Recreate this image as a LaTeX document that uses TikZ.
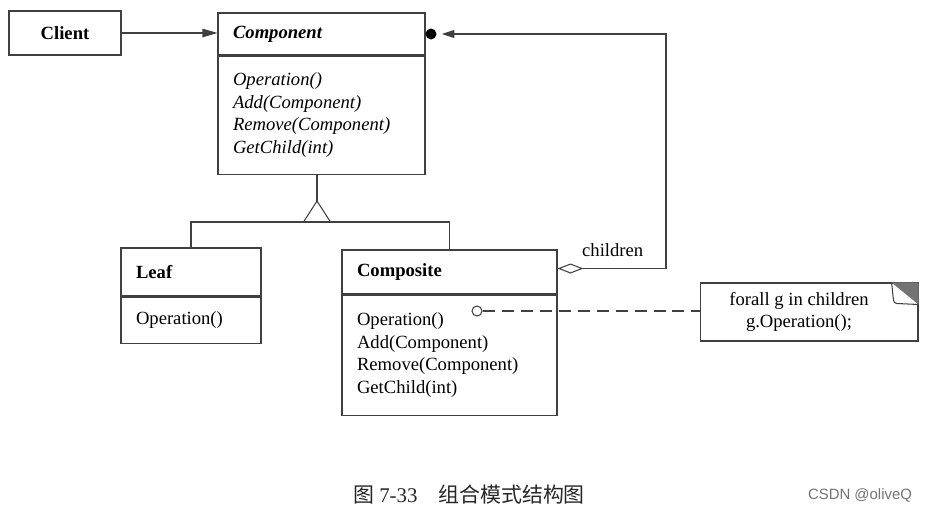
\documentclass[tikz,border=0pt]{standalone}
\usepackage{fontspec}
\setmainfont{Liberation Serif}
\newfontfamily\cjkfont{Noto Sans CJK SC}
\newfontfamily\markfont{Liberation Sans}
\usetikzlibrary{arrows.meta}

\newcommand{\umlfont}{\fontsize{10.6pt}{12.9pt}\selectfont}

\tikzset{
  classhead/.style={draw=black!75, line width=0.6pt, inner xsep=0.3cm, inner ysep=0pt, align=left, font=\umlfont\bfseries},
  classbody/.style={draw=black!75, line width=0.6pt, inner xsep=0.3cm, inner ysep=0pt, align=left, anchor=north, font=\umlfont},
  conn/.style={draw=black!75, line width=0.6pt},
}

\begin{document}
\begin{tikzpicture}[x=0.02cm, y=-0.02cm]
\useasboundingbox (0,0) rectangle (926,511);

\node [draw=black!75,
    line width=0.6pt,
    minimum width=2.24cm,
    minimum height=0.88cm,
    font=\umlfont\bfseries] (client) at (65,33) {Client};

\node [classhead,
    text width=3.54cm,
    minimum height=0.84cm,
    font=\umlfont\bfseries\itshape] (comphead) at (321.5,34) {Component};
\node [classbody,
    text width=3.54cm,
    minimum height=2.36cm,
    font=\umlfont\itshape] (compbody) at (comphead.south)
    {Operation()\\Add(Component)\\Remove(Component)\\GetChild(int)};

\node [classhead,
    text width=2.2cm,
    minimum height=0.96cm] (leafhead) at (191,272) {Leaf};
\node [classbody,
    text width=2.2cm,
    minimum height=0.92cm] (leafbody) at (leafhead.south) {Operation()};

\node [classhead,
    text width=3.7cm,
    minimum height=0.88cm] (comphead2) at (449.5,272) {Composite};
\node [classbody,
    text width=3.7cm,
    minimum height=2.4cm] (compbody2) at (comphead2.south)
    {Operation()\\Add(Component)\\Remove(Component)\\GetChild(int)};

% client uses component
\draw [conn, -{Triangle[length=0.3cm, width=0.17cm]}] (client.east) -- (client.east -| comphead.west);

% generalization
\coordinate (gen) at (317,201);
\coordinate (join) at (317,222);
\draw [conn] (gen) -- (gen |- compbody.south);
\draw [conn] (gen) -- ++(-13.5,21) -- ++(27,0) -- cycle;
\draw [conn] (leafhead.north) |- (join) -| (comphead2.north);

% children aggregation
\node [circle,
    fill=black,
    inner sep=0pt,
    minimum size=0.22cm] (ownerdot) at ([xshift=0.11cm]comphead.east) {};
\coordinate (bend) at (666,0 |- ownerdot);
\draw [conn, {Diamond[open, length=0.52cm, width=0.2cm]}-{Triangle[length=0.25cm, width=0.16cm]}, shorten >=0.1cm]
    ([yshift=0.07cm]comphead2.east) -| (bend) -- (ownerdot);
\node [anchor=base west, font=\umlfont] (childlabel) at (576,256) {children};

% note
\node [circle,
    draw=black!75,
    line width=0.6pt,
    fill=white,
    inner sep=0pt,
    minimum size=0.2cm] (opcircle) at (477,311) {};
\node [draw=black!75,
    line width=0.6pt,
    minimum width=4.36cm,
    minimum height=1.16cm] (note) at (809,312) {};
\node [font=\umlfont, align=center] (notetext) at (799,312) {forall g in children\\g.Operation();};
\draw [conn, dash pattern=on 0.24cm off 0.14cm] (opcircle) -- (opcircle -| note.west);
\fill [black!55] (note.north east) -- ++(-27,0) -- ++(27,22) -- cycle;
\coordinate (fold) at ([xshift=-0.54cm]note.north east);
\draw [conn] (fold) .. controls +(2,14) and +(-4,0) .. ++(5,21) -- ++(22,1);

% caption
\node [font=\fontsize{11.9pt}{14pt}\selectfont, text=black!85] (caption) at (469,495)
    {{\cjkfont 图} 7-33\quad{\cjkfont 组合模式结构图}};
\node [font=\markfont\fontsize{8.5pt}{10pt}\selectfont, text=black!55] (mark) at (860,495) {CSDN @oliveQ};

\end{tikzpicture}
\end{document}
